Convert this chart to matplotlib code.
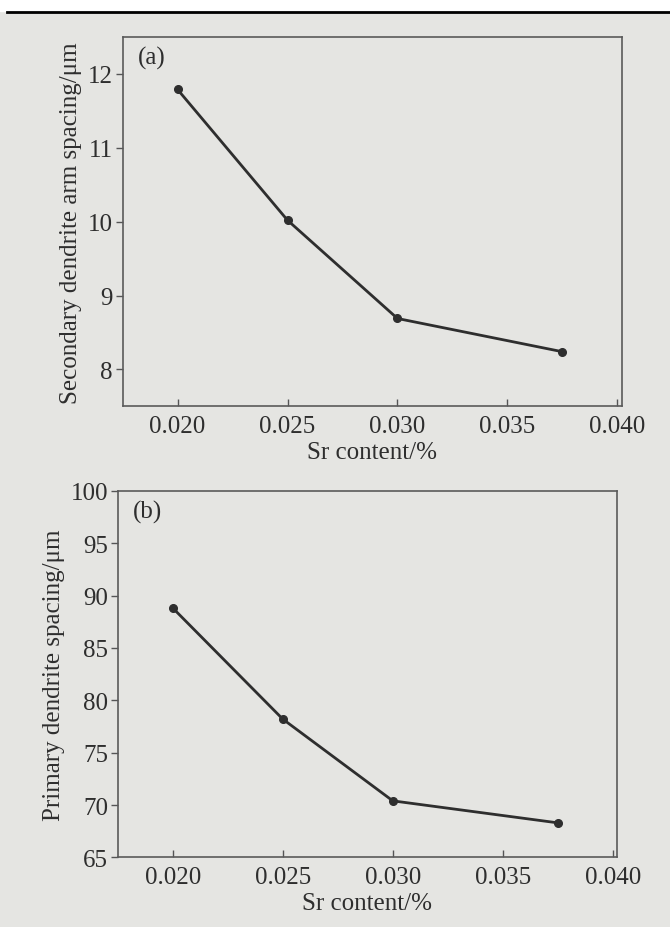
import numpy as np
import matplotlib.pyplot as plt
from matplotlib.lines import Line2D

# Sr content (%) and measured dendrite spacings
sr = [0.020, 0.025, 0.030, 0.0375]
sdas = [11.79, 10.02, 8.69, 8.24]
pdas = [88.8, 78.2, 70.4, 68.3]

xticks = [0.020, 0.025, 0.030, 0.035, 0.040]
xlabels = ["0.020", "0.025", "0.030", "0.035", "0.040"]

plt.rcParams['font.family'] = ['Liberation Serif', 'DejaVu Serif']

bg = '#e5e5e2'
ink = '#2e2e2e'

fig = plt.figure(figsize=(6.7, 9.28), dpi=100, facecolor=bg)

# white strip and black rule at the top of the scanned page
fig.patches.append(plt.Rectangle((0, 1 - 12 / 928), 1, 12 / 928, transform=fig.transFigure,
                                 color='white', zorder=0))
fig.add_artist(Line2D([0.01, 1], [1 - 13 / 928, 1 - 13 / 928], color='black', lw=2,
                      transform=fig.transFigure))


def panel(rect, y, ylim, yticks, ylabel, tag):
    ax = fig.add_axes(rect)
    ax.set_facecolor(bg)
    ax.plot(sr, y, color=ink, lw=2, marker='o', ms=5.5, mfc=ink, mec=ink)
    ax.set_xlim(0.0175, 0.0402)
    ax.set_ylim(*ylim)
    ax.set_xticks(xticks)
    ax.set_xticklabels(xlabels)
    ax.set_yticks(yticks)
    ax.set_yticklabels([str(t) for t in yticks])
    ax.tick_params(axis='x', direction='in', length=5, width=1, color='#555555',
                   labelsize=18, labelcolor=ink, pad=6)
    ax.tick_params(axis='y', direction='out', length=5, width=1, color='#555555',
                   labelsize=18, labelcolor=ink, pad=2)
    for s in ax.spines.values():
        s.set_color('#5a5a5a')
        s.set_linewidth(1.2)
    ax.set_xlabel("Sr content/%", fontsize=18, color=ink, labelpad=3)
    ax.set_ylabel(ylabel, fontsize=18, color=ink, labelpad=4)
    ax.text(0.03, 0.975, tag, transform=ax.transAxes, fontsize=18, color=ink,
            va='top', ha='left')
    return ax


panel([0.183, 0.561, 0.745, 0.398], sdas, (7.5, 12.5), [8, 9, 10, 11, 12],
      "Secondary dendrite arm spacing/\u03bcm", "(a)")
panel([0.176, 0.075, 0.745, 0.395], pdas, (65, 100), [65, 70, 75, 80, 85, 90, 95, 100],
      "Primary dendrite spacing/\u03bcm", "(b)")

fig.savefig("out.png", dpi=100, facecolor=bg)
